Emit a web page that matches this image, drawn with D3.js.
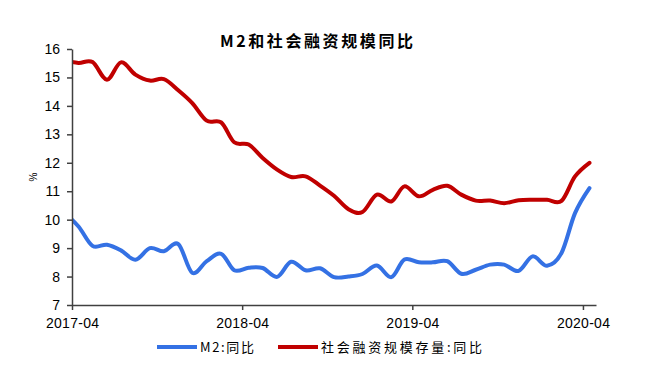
<!DOCTYPE html>
<html>
<head>
<meta charset="utf-8">
<script src="https://cdn.jsdelivr.net/npm/d3@7/dist/d3.min.js"></script>
<style>
  body { margin: 0; background: #fff; }
  text { font-family: "Liberation Sans", Arial, sans-serif; fill: #000; }
  .cjk { font-family: "Noto Sans CJK SC", sans-serif; }
</style>
</head>
<body>
<div id="chart"></div>
<script>
// Dados mensais (o primeiro mês fica fora da área do gráfico e é cortado)
const months = [
  "2017-03", "2017-04", "2017-05", "2017-06", "2017-07", "2017-08", "2017-09", "2017-10", "2017-11", "2017-12",
  "2018-01", "2018-02", "2018-03", "2018-04", "2018-05", "2018-06", "2018-07", "2018-08", "2018-09", "2018-10", "2018-11", "2018-12",
  "2019-01", "2019-02", "2019-03", "2019-04", "2019-05", "2019-06", "2019-07", "2019-08", "2019-09", "2019-10", "2019-11", "2019-12",
  "2020-01", "2020-02", "2020-03", "2020-04"
];
const m2 = [
  10.25, 9.76, 9.08, 9.12, 8.92, 8.59, 9.0, 8.89, 9.14, 8.13,
  8.54, 8.8, 8.22, 8.31, 8.3, 7.99, 8.52, 8.22, 8.29, 7.98, 8.0, 8.09,
  8.39, 7.98, 8.6, 8.5, 8.5, 8.54, 8.1, 8.24, 8.42, 8.42, 8.2, 8.71,
  8.38, 8.83, 10.23, 11.11
];
const tsf = [
  15.6, 15.51, 15.54, 14.92, 15.53, 15.1, 14.89, 14.94, 14.55, 14.1,
  13.48, 13.42, 12.72, 12.64, 12.17, 11.76, 11.5, 11.52, 11.2, 10.84, 10.37, 10.27,
  10.88, 10.64, 11.17, 10.82, 11.05, 11.19, 10.88, 10.67, 10.67, 10.58, 10.68, 10.7,
  10.7, 10.66, 11.52, 12.0
];
const tickLabels = ["2017-04", "2018-04", "2019-04", "2020-04"];
const yTicks = [7, 8, 9, 10, 11, 12, 13, 14, 15, 16];
const seriesNames = ["M2:同比", "社会融资规模存量:同比"];
const title = "M2和社会融资规模同比";

const width = 671, height = 371;
const plot = { left: 72, right: 596, top: 49, bottom: 305 };

const svg = d3.select('#chart')
  .append('svg')
  .attr('width', width)
  .attr('height', height);

const parseMonth = d3.timeParse('%Y-%m');
// cada ponto fica no meio do mês
const dates = months.map(m => d3.timeDay.offset(parseMonth(m), 14));

const x = d3.scaleTime()
  .domain([parseMonth('2017-04'), new Date(2020, 3, 29)])
  .range([plot.left, plot.right]);

const y = d3.scaleLinear()
  .domain([7, 16])
  .range([plot.bottom, plot.top]);

// Título
svg.append('text')
  .attr('class', 'cjk')
  .attr('x', 220)
  .attr('y', 47)
  .attr('font-size', 16)
  .attr('font-weight', 'bold')
  .attr('textLength', 193)
  .attr('lengthAdjust', 'spacing')
  .text(title);

// Área de corte
svg.append('clipPath')
  .attr('id', 'plot-clip')
  .append('rect')
  .attr('x', plot.left)
  .attr('y', 0)
  .attr('width', plot.right - plot.left)
  .attr('height', plot.bottom);

const line = d3.line()
  .x((d, i) => x(dates[i]))
  .y(d => y(d))
  .curve(d3.curveCardinal.tension(0));

const series = [
  { name: seriesNames[1], values: tsf, color: '#c00000' },
  { name: seriesNames[0], values: m2, color: '#3471e4' }
];

svg.append('g')
  .attr('clip-path', 'url(#plot-clip)')
  .selectAll('path')
  .data(series)
  .enter()
  .append('path')
  .attr('d', d => line(d.values))
  .attr('fill', 'none')
  .attr('stroke', d => d.color)
  .attr('stroke-width', 4)
  .attr('stroke-linecap', 'round')
  .attr('stroke-linejoin', 'round');

// Eixo Y
const yAxis = svg.append('g')
  .attr('transform', `translate(${plot.left},0)`)
  .call(d3.axisLeft(y).tickValues(yTicks).tickSize(5).tickSizeOuter(0).tickPadding(7));
yAxis.selectAll('text').attr('font-size', 14).attr('font-family', '"Liberation Sans", Arial, sans-serif');

// Eixo X
const xAxis = svg.append('g')
  .attr('transform', `translate(0,${plot.bottom})`)
  .call(d3.axisBottom(x)
    .tickValues(tickLabels.map(parseMonth))
    .tickFormat(d3.timeFormat('%Y-%m'))
    .tickSize(5)
    .tickSizeOuter(0)
    .tickPadding(8));
xAxis.selectAll('text')
  .attr('font-size', 14)
  .attr('font-family', '"Liberation Sans", Arial, sans-serif')
  .attr('textLength', 53)
  .attr('lengthAdjust', 'spacing');

svg.selectAll('.domain, .tick line')
  .attr('stroke', '#404040')
  .attr('stroke-width', 1.5);

// Unidade
svg.append('text')
  .attr('transform', 'translate(37,177) rotate(-90)')
  .attr('text-anchor', 'middle')
  .attr('font-size', 10)
  .text('%');

// Legenda
const legendItems = [
  { name: seriesNames[0], color: '#3471e4', x: 157, textLen: 54 },
  { name: seriesNames[1], color: '#c00000', x: 278, textLen: 161 }
];
const legend = svg.append('g')
  .selectAll('g')
  .data(legendItems)
  .enter()
  .append('g')
  .attr('transform', d => `translate(${d.x},347)`);

legend.append('line')
  .attr('x1', 0)
  .attr('x2', 40)
  .attr('stroke', d => d.color)
  .attr('stroke-width', 4);

legend.append('text')
  .attr('class', 'cjk')
  .attr('x', 43)
  .attr('y', 5)
  .attr('font-size', 13)
  .attr('textLength', d => d.textLen)
  .attr('lengthAdjust', 'spacing')
  .text(d => d.name);
</script>
</body>
</html>
